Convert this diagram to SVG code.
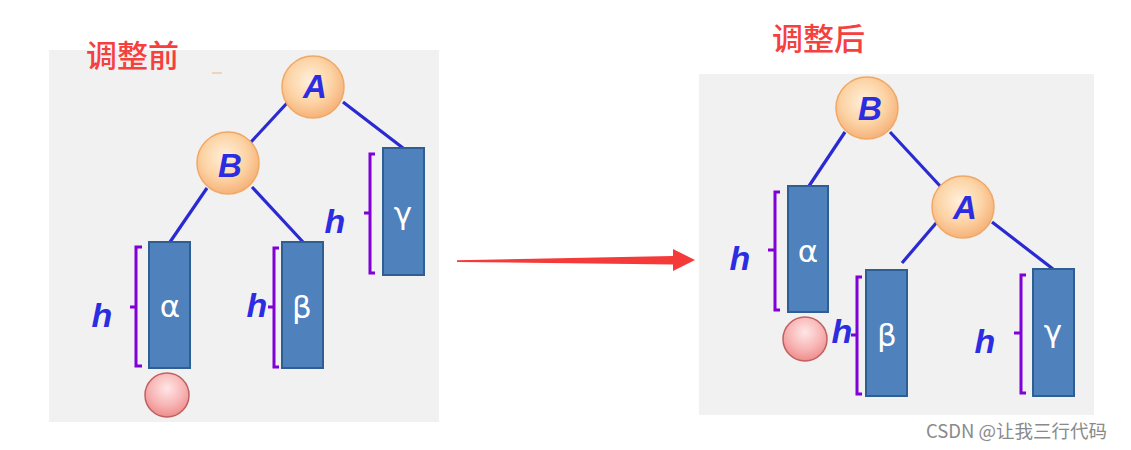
<svg xmlns="http://www.w3.org/2000/svg" width="1131" height="450" viewBox="0 0 1131 450">
<defs>
<radialGradient id="og" cx="45%" cy="40%" r="60%">
<stop offset="0" stop-color="#fff0dc"/><stop offset="0.6" stop-color="#fcd3a4"/><stop offset="1" stop-color="#f6b27a"/>
</radialGradient>
<radialGradient id="pg" cx="50%" cy="35%" r="65%">
<stop offset="0" stop-color="#ffe6e6"/><stop offset="0.6" stop-color="#f8b4b4"/><stop offset="1" stop-color="#ee8c8c"/>
</radialGradient>
<style>
.bg{fill:#f1f1f1}
.title{font-family:"Noto Sans CJK SC","Noto Sans",sans-serif;font-size:31px;font-weight:500;fill:#f5403e}
.node{fill:url(#og);stroke:#f0a865;stroke-width:1.5}
.nl{font-family:"Liberation Sans",Arial,sans-serif;font-weight:bold;font-style:italic;font-size:33px;fill:#2c2ce0;text-anchor:middle}
.edge{stroke:#2a2ad2;stroke-width:3.2;fill:none}
.sub{fill:#4f81bd;stroke:#2f5f92;stroke-width:2}
.gl{font-family:"DejaVu Sans","Liberation Sans",sans-serif;font-size:31px;fill:#ffffff;text-anchor:middle}
.br{stroke:#8000d8;stroke-width:3;fill:none}
.h{font-family:"Liberation Sans",Arial,sans-serif;font-weight:bold;font-style:italic;font-size:34px;fill:#2c2ce0;text-anchor:middle}
.ins{fill:url(#pg);stroke:#c06060;stroke-width:1.5}
.wm{font-family:"Noto Sans CJK SC","Noto Sans",sans-serif;font-size:18.5px;fill:#8a8a8a}
</style>
</defs>
<rect width="1131" height="450" fill="#ffffff"/>
<rect class="bg" x="49" y="50" width="390" height="372"/>
<rect class="bg" x="699" y="74" width="395" height="341"/>
<line x1="212" y1="73" x2="222" y2="73" stroke="#f0c8a8" stroke-width="1.5"/>
<text class="title" x="86" y="67">调整前</text>
<text class="title" x="772" y="50">调整后</text>

<g id="connectors">
<line class="edge" x1="288" y1="102" x2="251" y2="142"/>
<line class="edge" x1="343" y1="102" x2="403" y2="148"/>
<line class="edge" x1="207" y1="188" x2="170" y2="242"/>
<line class="edge" x1="252" y1="187" x2="303" y2="242"/>
<line class="edge" x1="845" y1="132" x2="809" y2="186"/>
<line class="edge" x1="890" y1="132" x2="941" y2="187"/>
<line class="edge" x1="937" y1="222" x2="902" y2="263"/>
<line class="edge" x1="992" y1="222" x2="1053" y2="269"/>
<polygon id="arrow" points="457,260.3 673,256 673,249 695,260 673,271 673,264.5 457,262" fill="#f53a3a"/>
</g>

<g id="left-A"><circle class="node" cx="313" cy="87" r="31"/><text class="nl" x="315" y="98">A</text></g>
<g id="left-B"><circle class="node" cx="228" cy="163" r="31"/><text class="nl" x="230" y="177">B</text></g>
<g id="left-alpha">
<rect class="sub" x="149" y="242" width="41" height="126"/><text class="gl" x="170" y="317">α</text>
<path class="br" d="M142,247 H136 V366 H142 M136,307 H130"/><text class="h" x="102" y="327">h</text>
</g>
<g id="left-beta">
<rect class="sub" x="282" y="242" width="41" height="126"/><text class="gl" x="302" y="318">β</text>
<path class="br" d="M279,248 H274 V367 H279 M274,307 H268"/><text class="h" x="257" y="317">h</text>
</g>
<g id="left-gamma">
<rect class="sub" x="383" y="148" width="41" height="127"/><text class="gl" x="403" y="224">γ</text>
<path class="br" d="M375,154 H370 V273 H375 M370,213 H364"/><text class="h" x="335" y="233">h</text>
</g>
<g id="left-insert"><circle class="ins" cx="167" cy="395" r="22"/></g>

<g id="right-B"><circle class="node" cx="867" cy="108" r="31"/><text class="nl" x="870" y="120">B</text></g>
<g id="right-A"><circle class="node" cx="963" cy="207" r="31"/><text class="nl" x="965" y="219">A</text></g>
<g id="right-alpha">
<rect class="sub" x="788" y="186" width="40" height="126"/><text class="gl" x="808" y="262">α</text>
<path class="br" d="M780,192 H775 V310 H780 M775,250 H768"/><text class="h" x="740" y="270">h</text>
</g>
<g id="right-beta">
<rect class="sub" x="866" y="270" width="41" height="126"/><text class="gl" x="887" y="346">β</text>
<path class="br" d="M862,277 H857 V394 H862 M857,335 H851"/><text class="h" x="842" y="343">h</text>
</g>
<g id="right-gamma">
<rect class="sub" x="1033" y="269" width="41" height="127"/><text class="gl" x="1053" y="342">γ</text>
<path class="br" d="M1026,275 H1021 V393 H1026 M1021,333 H1014"/><text class="h" x="985" y="353">h</text>
</g>
<g id="right-insert"><circle class="ins" cx="805" cy="339" r="22"/></g>

<text class="wm" x="926" y="438">CSDN @让我三行代码</text>
</svg>
